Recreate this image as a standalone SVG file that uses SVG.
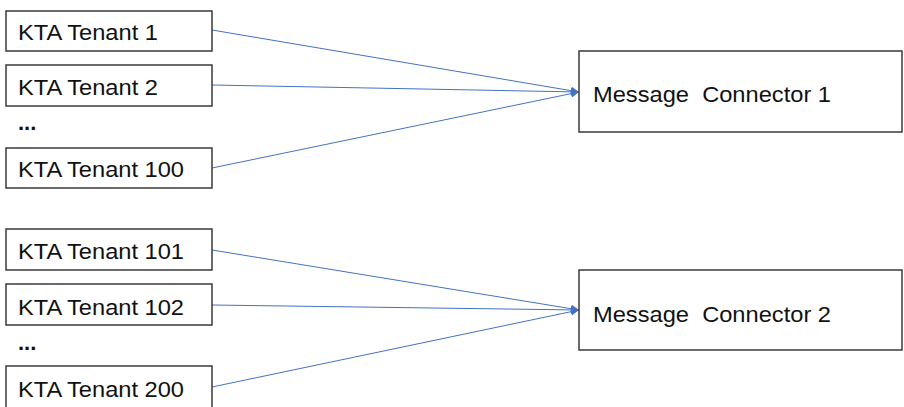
<svg xmlns="http://www.w3.org/2000/svg" width="904" height="407" viewBox="0 0 904 407">
<style>
.box{fill:#fff;stroke:#3a3a3a;stroke-width:1.5}
.t{font-family:"Liberation Sans",Arial,sans-serif;font-size:22px;fill:#111}
.c{stroke:#4472C4;stroke-width:1;fill:none}
</style>
<defs>
<marker id="ah" viewBox="0 0 10 10" refX="10" refY="5" markerWidth="10" markerHeight="8" markerUnits="userSpaceOnUse" orient="auto">
<path d="M0,0 L10,5 L0,10 z" fill="#4472C4"/>
</marker>
</defs>
<rect width="904" height="407" fill="#fff"/>
<g id="connectors">
<line class="c" x1="212" y1="30" x2="579" y2="92" marker-end="url(#ah)"/>
<line class="c" x1="212" y1="85" x2="579" y2="92" marker-end="url(#ah)"/>
<line class="c" x1="212" y1="168" x2="579" y2="92" marker-end="url(#ah)"/>
<line class="c" x1="212" y1="250" x2="579" y2="310" marker-end="url(#ah)"/>
<line class="c" x1="212" y1="305" x2="579" y2="310" marker-end="url(#ah)"/>
<line class="c" x1="212" y1="387" x2="579" y2="310" marker-end="url(#ah)"/>
</g>
<g id="tenant1"><rect class="box" x="6" y="11" width="206" height="40"/><text class="t" x="18" y="40" textLength="140" lengthAdjust="spacingAndGlyphs">KTA Tenant 1</text></g>
<g id="tenant2"><rect class="box" x="6" y="65" width="206" height="41"/><text class="t" x="18" y="95" textLength="140" lengthAdjust="spacingAndGlyphs">KTA Tenant 2</text></g>
<g id="dots1"><text class="t" x="18" y="130" font-weight="bold">...</text></g>
<g id="tenant100"><rect class="box" x="6" y="148" width="206" height="40"/><text class="t" x="18" y="177" textLength="166" lengthAdjust="spacingAndGlyphs">KTA Tenant 100</text></g>
<g id="tenant101"><rect class="box" x="6" y="229" width="206" height="41"/><text class="t" x="18" y="259" textLength="166" lengthAdjust="spacingAndGlyphs">KTA Tenant 101</text></g>
<g id="tenant102"><rect class="box" x="6" y="284" width="206" height="41"/><text class="t" x="18" y="315" textLength="166" lengthAdjust="spacingAndGlyphs">KTA Tenant 102</text></g>
<g id="dots2"><text class="t" x="18" y="350" font-weight="bold">...</text></g>
<g id="tenant200"><rect class="box" x="6" y="366" width="206" height="42"/><text class="t" x="18" y="397" textLength="166" lengthAdjust="spacingAndGlyphs">KTA Tenant 200</text></g>
<g id="connector1"><rect class="box" x="579" y="51" width="323" height="81"/><text class="t" x="593" y="102" xml:space="preserve" textLength="238" lengthAdjust="spacingAndGlyphs">Message  Connector 1</text></g>
<g id="connector2"><rect class="box" x="579" y="270" width="323" height="80"/><text class="t" x="593" y="322" xml:space="preserve" textLength="238" lengthAdjust="spacingAndGlyphs">Message  Connector 2</text></g>
</svg>
